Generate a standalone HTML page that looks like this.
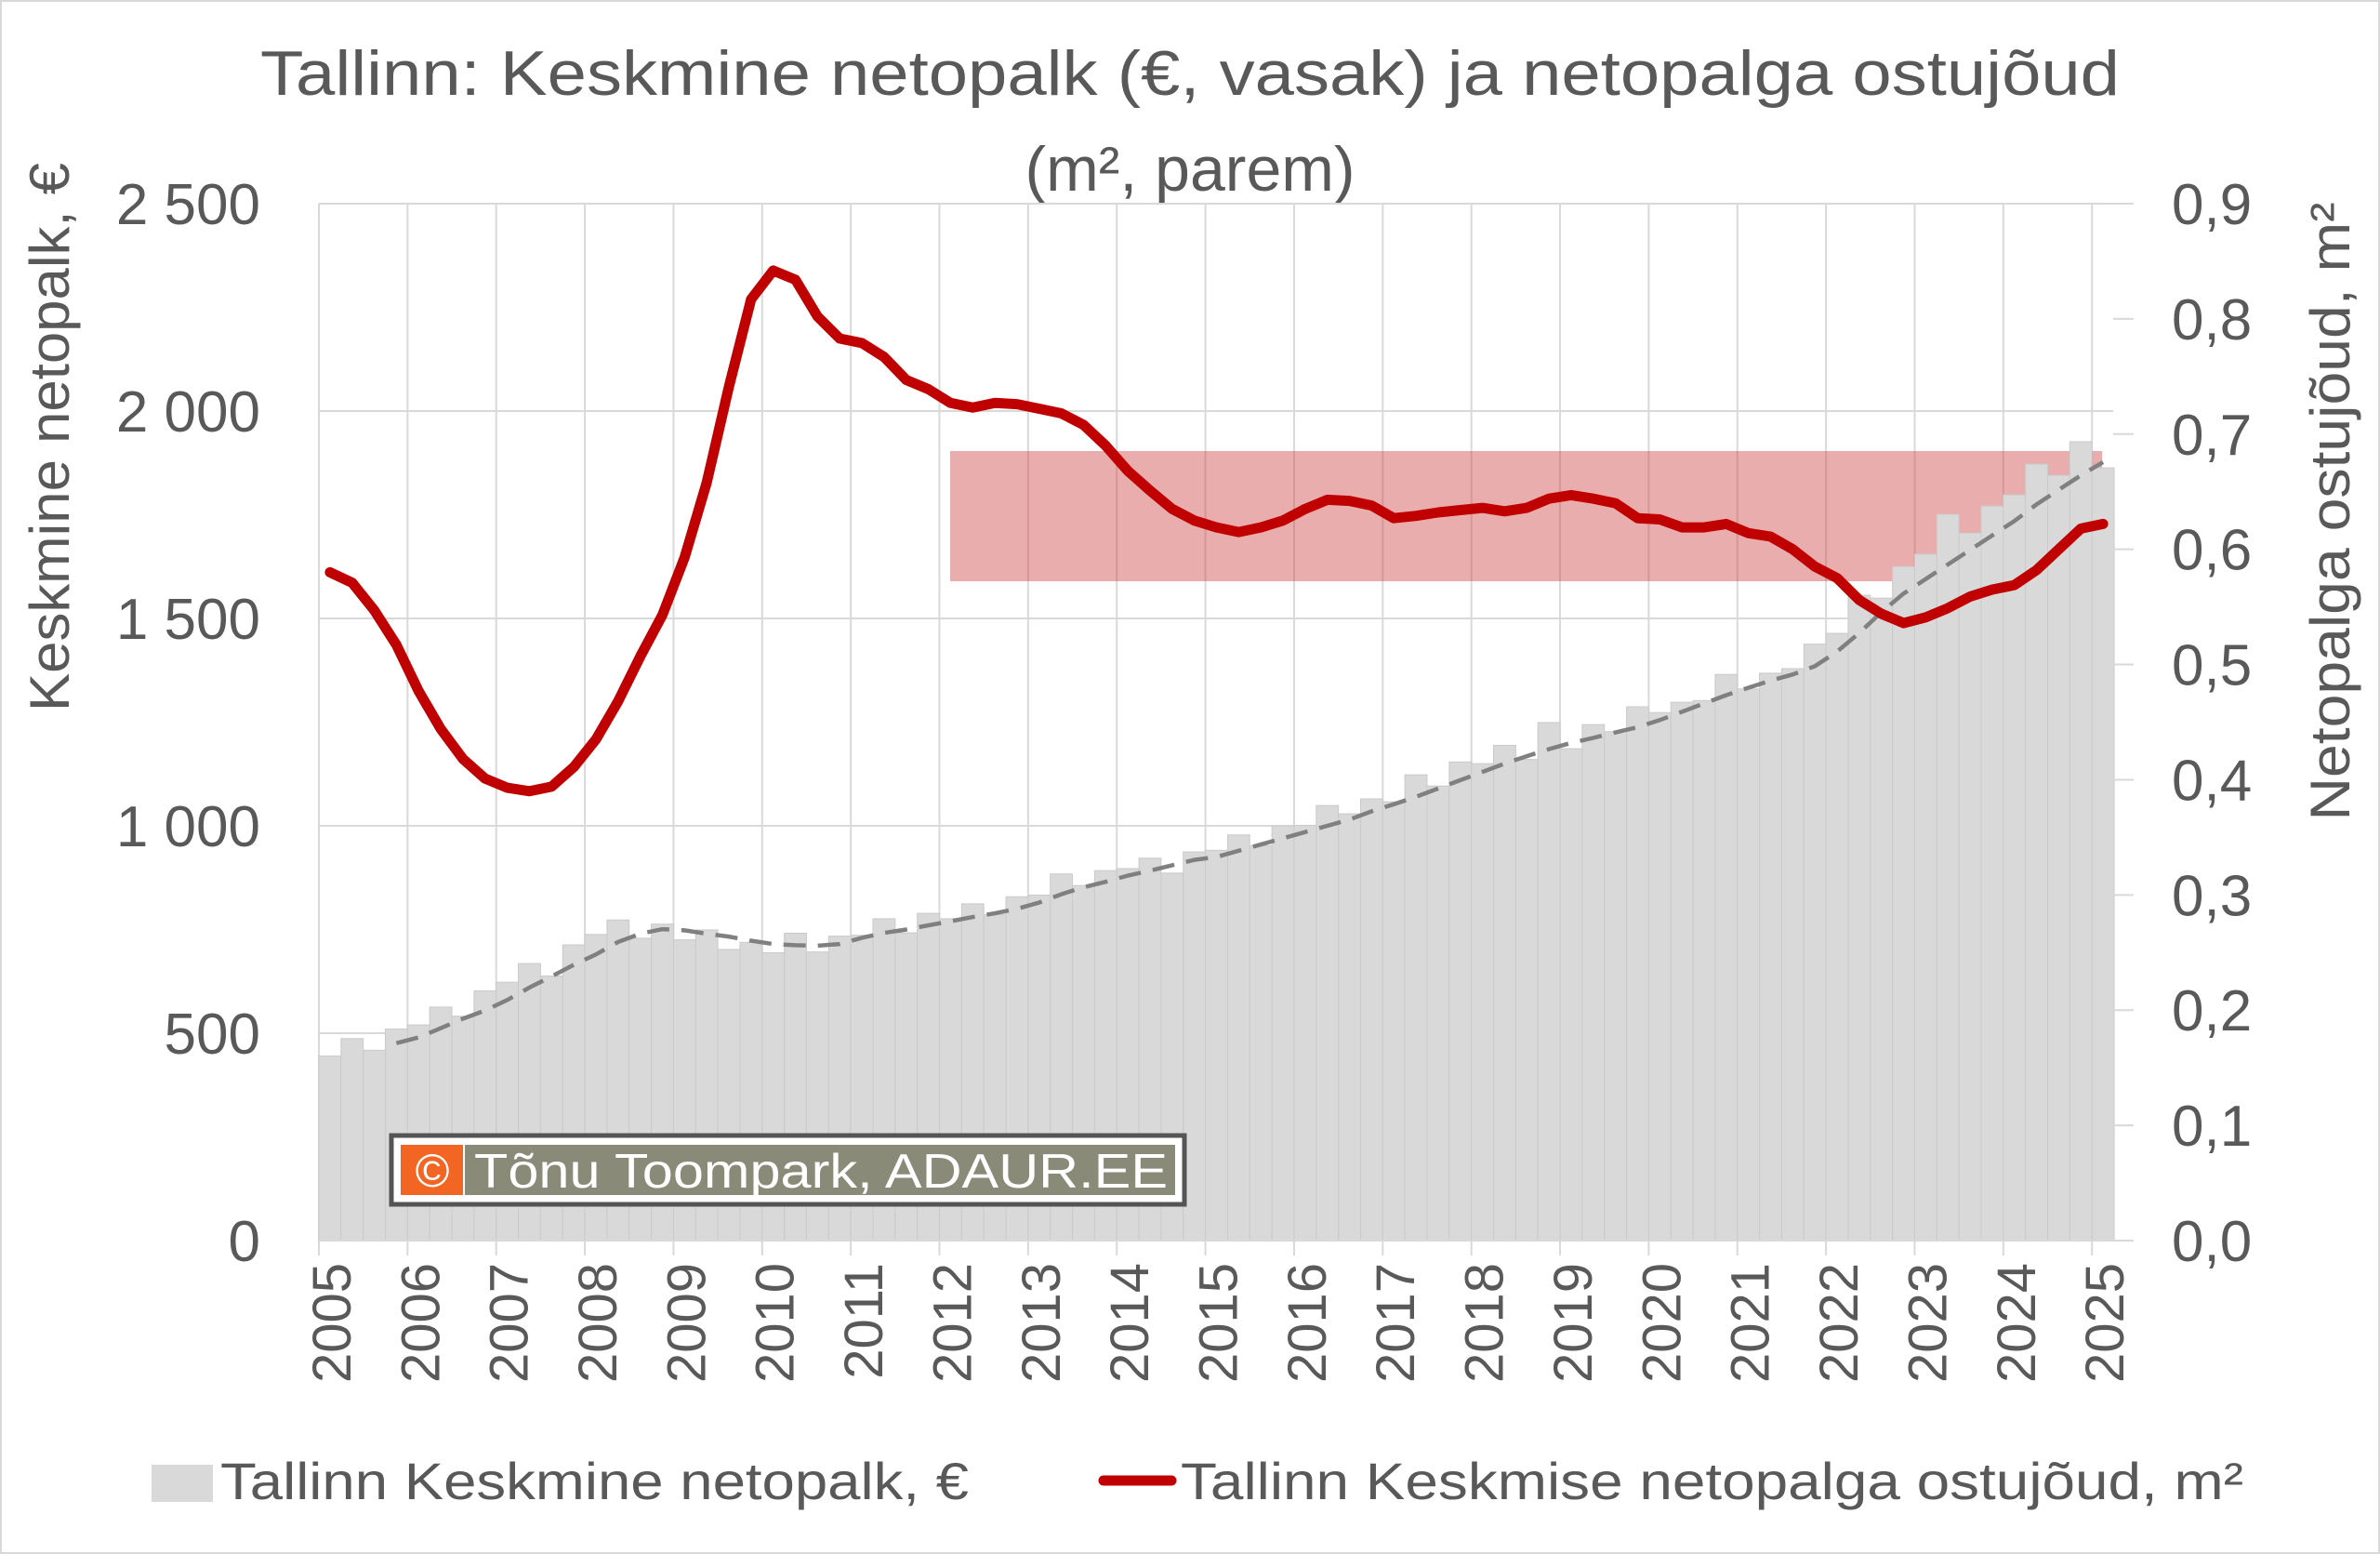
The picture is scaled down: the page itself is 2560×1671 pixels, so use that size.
<!DOCTYPE html>
<html><head><meta charset="utf-8"><style>
html,body{margin:0;padding:0;background:#fff;}
svg{display:block;font-family:"Liberation Sans",sans-serif;}
</style></head><body>
<svg id="chart" width="2560" height="1671" viewBox="0 0 2560 1671" xmlns="http://www.w3.org/2000/svg">
<rect x="1" y="1" width="2558" height="1669" fill="#fff" stroke="#D9D9D9" stroke-width="2"/>
<text x="1280" y="102" text-anchor="middle" font-size="68" fill="#595959" textLength="2000" lengthAdjust="spacingAndGlyphs">Tallinn: Keskmine netopalk (€, vasak) ja netopalga ostujõud</text>
<text x="1280" y="205" text-anchor="middle" font-size="68" fill="#595959">(m², parem)</text>
<g id="grid"></g>
<rect x="1022" y="485" width="1239" height="140" fill="rgba(205,60,60,0.42)"/>
<g id="bars"></g>
<g id="overlay"></g>
<g id="axes"></g>
<g>
<rect x="421" y="1221" width="853" height="74" fill="#fff" stroke="#555" stroke-width="5"/>
<rect x="431" y="1231" width="67" height="54" fill="#F26522"/>
<rect x="500" y="1231" width="764" height="54" fill="#8A8A78"/>
<text x="465" y="1276" text-anchor="middle" font-size="50" fill="#fff">©</text>
<text x="510" y="1277" font-size="52" fill="#fff" textLength="746" lengthAdjust="spacingAndGlyphs">Tõnu Toompark, ADAUR.EE</text>
</g>
<text transform="translate(74,470) rotate(-90)" text-anchor="middle" font-size="60" fill="#595959" textLength="590" lengthAdjust="spacingAndGlyphs">Keskmine netopalk, €</text>
<text transform="translate(2527,550) rotate(-90)" text-anchor="middle" font-size="60" fill="#595959" textLength="665" lengthAdjust="spacingAndGlyphs">Netopalga ostujõud, m²</text>
<g>
<rect x="163" y="1575" width="66" height="40" fill="#D9D9D9"/>
<text x="237" y="1612" font-size="56" fill="#595959" textLength="805" lengthAdjust="spacingAndGlyphs">Tallinn Keskmine netopalk, €</text>
<line x1="1187" y1="1592" x2="1260" y2="1592" stroke="#C00000" stroke-width="11" stroke-linecap="round"/>
<text x="1270" y="1612" font-size="56" fill="#595959" textLength="1143" lengthAdjust="spacingAndGlyphs">Tallinn Keskmise netopalga ostujõud, m²</text>
</g>
</svg>
<script>
const years = [2005,2006,2007,2008,2009,2010,2011,2012,2013,2014,2015,2016,2017,2018,2019,2020,2021,2022,2023,2024,2025];
const salary = [445,487,459,510, 520,563,541,602, 623,668,638,713, 738,773,729,763, 725,749,702,719, 694,741,696,734, 736,776,742,789, 776,812,786,829, 833,884,856,892, 897,922,886,937, 941,978,952,1000, 1001,1049,1029,1065, 1058,1123,1096,1154, 1150,1194,1160,1249, 1186,1244,1227,1287, 1273,1298,1302,1365, 1330,1368,1379,1438, 1464,1556,1549,1625, 1655,1751,1706,1771, 1798,1872,1845,1926, 1863];
const trend = [null,null,null,476, 490,512,535,555, 580,610,637,665, 690,720,740,751, 748,740,733,723, 715,712,711,715, 730,742,750,760, 770,780,789,800, 815,835,852,865, 880,892,905,918, 925,940,955,970, 985,1000,1015,1035, 1052,1070,1090,1110, 1130,1150,1168,1185, 1200,1212,1225,1238, 1255,1275,1295,1315, 1333,1350,1365,1385, 1420,1465,1515,1560, 1595,1630,1665,1700, 1735,1775,1810,1845, 1877];
const purchasing = [0.580,0.571,0.547,0.517, 0.477,0.444,0.418,0.401, 0.393,0.390,0.394,0.411, 0.435,0.468,0.507,0.543, 0.593,0.658,0.741,0.817, 0.842,0.834,0.802,0.783, 0.779,0.767,0.747,0.739, 0.727,0.723,0.727,0.726, 0.722,0.718,0.708,0.690, 0.668,0.651,0.635,0.625, 0.619,0.615,0.619,0.625, 0.635,0.643,0.642,0.638, 0.627,0.629,0.632,0.634, 0.636,0.633,0.636,0.644, 0.647,0.644,0.640,0.627, 0.626,0.619,0.619,0.622, 0.614,0.611,0.600,0.585, 0.575,0.556,0.544,0.536, 0.541,0.549,0.559,0.565, 0.569,0.582,0.600,0.618, 0.622];
const leftTicks = [0,500,1000,1500,2000,2500];
const leftTickLabels = ["0","500","1 000","1 500","2 000","2 500"];
const rightTicks = [0,0.1,0.2,0.3,0.4,0.5,0.6,0.7,0.8,0.9];
const rightTickLabels = ["0,0","0,1","0,2","0,3","0,4","0,5","0,6","0,7","0,8","0,9"];

const NS = "http://www.w3.org/2000/svg";
const X0 = 343, BW = 23.84, YB = 1334, YT = 219, PR = 2273;
const yL = v => YB - v / 2500 * (YB - YT);
const yR = v => YB - v / 0.9 * (YB - YT);
const xB = i => X0 + i * BW;
const xC = i => X0 + (i + 0.5) * BW;
function mk(tag, attrs, parent) { const e = document.createElementNS(NS, tag); for (const k in attrs) e.setAttribute(k, attrs[k]); parent.appendChild(e); return e; }
const grid = document.getElementById('grid'), bars = document.getElementById('bars'), ov = document.getElementById('overlay'), axes = document.getElementById('axes');

leftTicks.forEach((v, k) => {
  const l = mk('line', {x1: X0, x2: PR, y1: yL(v), y2: yL(v), stroke: '#D9D9D9', 'stroke-width': 2}, grid);
  
  
  const t = mk('text', {x: 280, y: yL(v) + 22, 'text-anchor': 'end', 'font-size': 62, fill: '#595959'}, axes);
  t.textContent = leftTickLabels[k];
  
  
});
rightTicks.forEach((v, k) => {
  const l = mk('line', {x1: PR, x2: PR + 22, y1: yR(v), y2: yR(v), stroke: '#D9D9D9', 'stroke-width': 2}, axes);
  
  
  const t = mk('text', {x: 2336, y: yR(v) + 22, 'font-size': 62, fill: '#595959'}, axes);
  t.textContent = rightTickLabels[k];
  
  
});
years.forEach((yr, k) => {
  const x = xB(k * 4);
  const l = mk('line', {x1: x, x2: x, y1: YT, y2: YB + 16, stroke: '#D9D9D9', 'stroke-width': 2}, grid);
  
  
  const tx = xC(k * 4) + 22;
  const t = mk('text', {transform: `translate(${tx},1358) rotate(-90)`, 'text-anchor': 'end', 'font-size': 58, fill: '#595959'}, axes);
  t.textContent = yr;
  
  
});
salary.forEach((v, i) => {
  const r = mk('rect', {x: xB(i), y: yL(v), width: BW, height: YB - yL(v), fill: '#D9D9D9', stroke: '#CACACA', 'stroke-width': 1}, bars);
  
  
});
const ax = mk('line', {x1: X0, x2: PR, y1: YB, y2: YB, stroke: '#D9D9D9', 'stroke-width': 2}, axes);



let d = '';
trend.forEach((v, i) => { if (v == null) return; d += (d ? 'L' : 'M') + xC(i).toFixed(1) + ',' + yL(v).toFixed(1); });
const tp = mk('path', {d: d, fill: 'none', stroke: '#808080', 'stroke-width': 4.5, 'stroke-dasharray': '24,13'}, ov);



let d2 = '';
purchasing.forEach((v, i) => { d2 += (i ? 'L' : 'M') + xC(i).toFixed(1) + ',' + yR(v).toFixed(1); });
const rp = mk('path', {d: d2, fill: 'none', stroke: '#C00000', 'stroke-width': 11, 'stroke-linejoin': 'round', 'stroke-linecap': 'round'}, ov);


</script>
</body></html>
